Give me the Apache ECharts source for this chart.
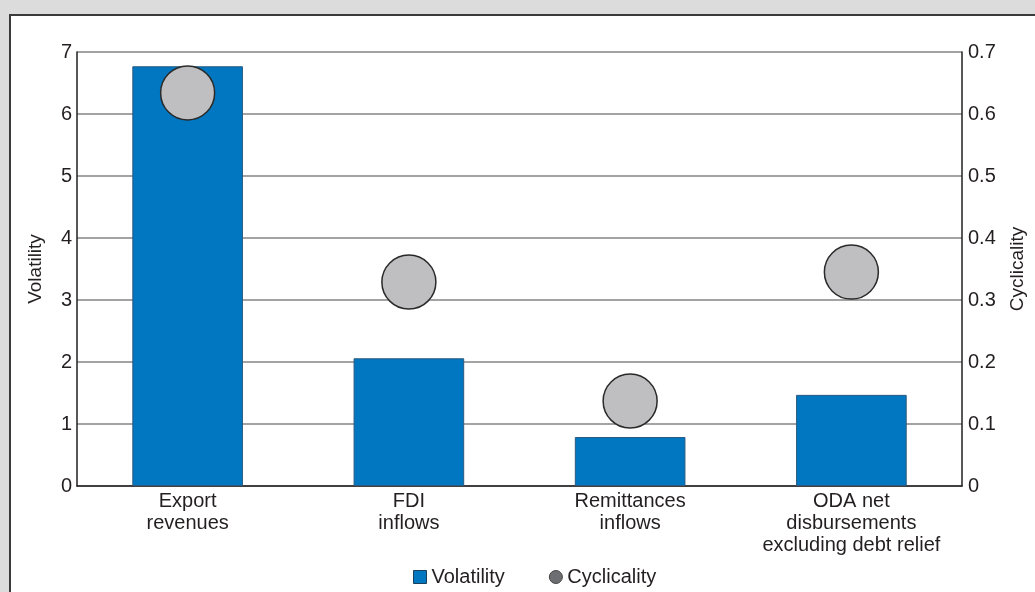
<!DOCTYPE html>
<html><head><meta charset="utf-8">
<script src="https://cdn.jsdelivr.net/npm/echarts@6/dist/echarts.min.js"></script>
<style>html,body{margin:0;padding:0;background:#dcdcdc;}#c{width:1035px;height:592px;}</style>
</head><body><div id="c"></div>
<script>
const categories = ['Export\nrevenues', 'FDI\ninflows', 'Remittances\ninflows', 'ODA net\ndisbursements\nexcluding debt relief'];
const volatility = [6.77, 2.06, 0.79, 1.47];
const cyclicality = [0.634, 0.329, 0.137, 0.345];
const leftTicks = [0, 7, 1];
const rightTicks = [0, 0.7, 0.1];

const font = 'Liberation Sans, Arial, Helvetica, sans-serif';
const chart = echarts.init(document.getElementById('c'));
chart.setOption({
  animation: false,
  backgroundColor: '#dcdcdc',
  graphic: [{
    type: 'rect', z: -10, silent: true,
    shape: {x: 10, y: 15, width: 1040, height: 600},
    style: {fill: '#ffffff', stroke: '#3a3a3a', lineWidth: 2}
  }],
  grid: {left: 77, right: 66, top: 52, bottom: 106, containLabel: false},
  legend: {
    bottom: 0, left: 408, itemGap: 44, itemWidth: 13, itemHeight: 13,
    textStyle: {fontFamily: font, fontSize: 20, color: '#231f20', padding: [0, 0, 0, 0]},
    data: [
      {name: 'Volatility', icon: 'rect', itemStyle: {color: '#0077c0', borderColor: '#1c3f5c', borderWidth: 1}},
      {name: 'Cyclicality', icon: 'circle', itemStyle: {color: '#6d6e71', borderColor: '#444', borderWidth: 1}}
    ]
  },
  xAxis: {
    type: 'category', data: categories,
    axisLine: {show: true, lineStyle: {color: '#231f20', width: 1.5}},
    axisTick: {show: false},
    axisLabel: {fontFamily: font, fontSize: 20, color: '#231f20', lineHeight: 22, margin: 4, interval: 0}
  },
  yAxis: [{
    type: 'value', min: leftTicks[0], max: leftTicks[1], interval: leftTicks[2],
    name: 'Volatility', nameLocation: 'middle', nameGap: 32, nameRotate: 90,
    nameTextStyle: {fontFamily: font, fontSize: 19, color: '#231f20'},
    axisLine: {show: true, lineStyle: {color: '#231f20', width: 1.5}},
    axisTick: {show: false},
    axisLabel: {fontFamily: font, fontSize: 20, color: '#231f20', margin: 5},
    splitLine: {show: true, lineStyle: {color: '#858585', width: 1.5}}
  }, {
    type: 'value', min: rightTicks[0], max: rightTicks[1], interval: rightTicks[2],
    name: 'Cyclicality', nameLocation: 'middle', nameGap: 46, nameRotate: 90,
    nameTextStyle: {fontFamily: font, fontSize: 19, color: '#231f20'},
    axisLine: {show: true, lineStyle: {color: '#231f20', width: 1.5}},
    axisTick: {show: false},
    axisLabel: {fontFamily: font, fontSize: 20, color: '#231f20', margin: 6,
      formatter: v => v === 0 ? '0' : v.toFixed(1)},
    splitLine: {show: false}
  }],
  series: [{
    name: 'Volatility', type: 'bar', data: volatility, barWidth: '50%',
    itemStyle: {color: '#0077c0', borderColor: '#2a5a80', borderWidth: 1}
  }, {
    name: 'Cyclicality', type: 'scatter', yAxisIndex: 1, data: cyclicality, symbolSize: 54,
    itemStyle: {color: '#bfbfc1', borderColor: '#2a2a2a', borderWidth: 1.5, opacity: 1}
  }]
});
</script></body></html>
